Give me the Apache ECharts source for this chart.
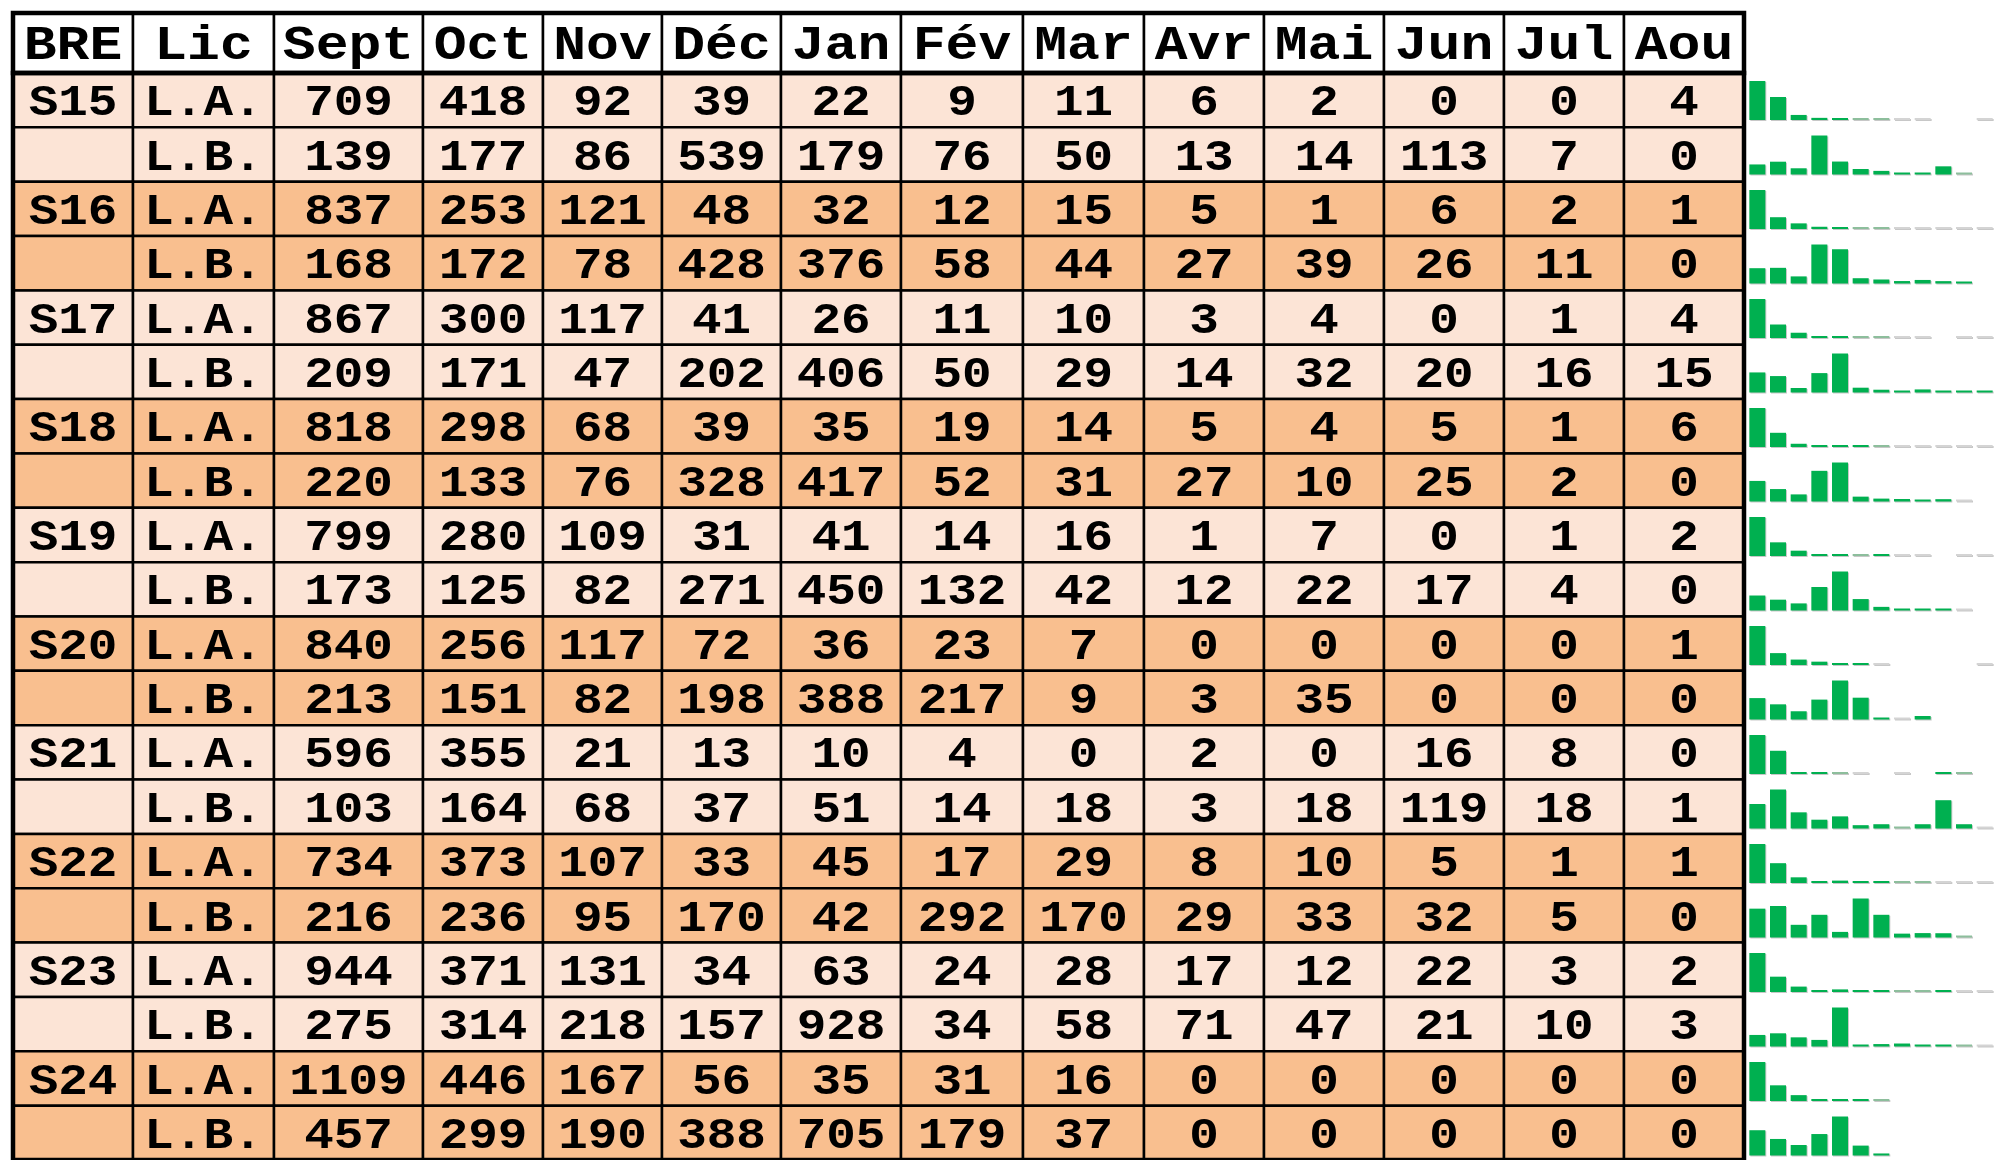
<!DOCTYPE html>
<html>
<head>
<meta charset="utf-8">
<title>BRE - L.A. / L.B.</title>
<script src="https://cdn.jsdelivr.net/npm/echarts@6/dist/echarts.min.js"></script>
<style>
html,body{margin:0;padding:0;background:#fff;}
#main{width:1995px;height:1160px;}
</style>
</head>
<body>
<div id="main"></div>
<script>
// en-têtes du tableau
var headers = ['BRE','Lic','Sept','Oct','Nov','Déc','Jan','Fév','Mar','Avr','Mai','Jun','Jul','Aou'];
var months = headers.slice(2);
var sites = ['S15','S16','S17','S18','S19','S20','S21','S22','S23','S24'];
var lics = ['L.A.','L.B.'];

// valeurs par ligne (Sept -> Aou)
var S15_LA = [709, 418, 92, 39, 22, 9, 11, 6, 2, 0, 0, 4];
var S15_LB = [139, 177, 86, 539, 179, 76, 50, 13, 14, 113, 7, 0];
var S16_LA = [837, 253, 121, 48, 32, 12, 15, 5, 1, 6, 2, 1];
var S16_LB = [168, 172, 78, 428, 376, 58, 44, 27, 39, 26, 11, 0];
var S17_LA = [867, 300, 117, 41, 26, 11, 10, 3, 4, 0, 1, 4];
var S17_LB = [209, 171, 47, 202, 406, 50, 29, 14, 32, 20, 16, 15];
var S18_LA = [818, 298, 68, 39, 35, 19, 14, 5, 4, 5, 1, 6];
var S18_LB = [220, 133, 76, 328, 417, 52, 31, 27, 10, 25, 2, 0];
var S19_LA = [799, 280, 109, 31, 41, 14, 16, 1, 7, 0, 1, 2];
var S19_LB = [173, 125, 82, 271, 450, 132, 42, 12, 22, 17, 4, 0];
var S20_LA = [840, 256, 117, 72, 36, 23, 7, 0, 0, 0, 0, 1];
var S20_LB = [213, 151, 82, 198, 388, 217, 9, 3, 35, 0, 0, 0];
var S21_LA = [596, 355, 21, 13, 10, 4, 0, 2, 0, 16, 8, 0];
var S21_LB = [103, 164, 68, 37, 51, 14, 18, 3, 18, 119, 18, 1];
var S22_LA = [734, 373, 107, 33, 45, 17, 29, 8, 10, 5, 1, 1];
var S22_LB = [216, 236, 95, 170, 42, 292, 170, 29, 33, 32, 5, 0];
var S23_LA = [944, 371, 131, 34, 63, 24, 28, 17, 12, 22, 3, 2];
var S23_LB = [275, 314, 218, 157, 928, 34, 58, 71, 47, 21, 10, 3];
var S24_LA = [1109, 446, 167, 56, 35, 31, 16, 0, 0, 0, 0, 0];
var S24_LB = [457, 299, 190, 388, 705, 179, 37, 0, 0, 0, 0, 0];

var rows = [S15_LA, S15_LB, S16_LA, S16_LB, S17_LA, S17_LB, S18_LA, S18_LB, S19_LA, S19_LB,
            S20_LA, S20_LB, S21_LA, S21_LB, S22_LA, S22_LB, S23_LA, S23_LB, S24_LA, S24_LB];

// mise en page
var colWidths = [120, 141, 149, 120, 119, 119, 120, 122, 121, 120, 120, 120, 120, 120];
var LIGHT = '#FCE4D6', DARK = '#F9BF8F', GREEN = '#00B050';
var TABLE_LEFT = 13, HEAD_TOP = 13, HEAD_H = 60, ROW_H = 54.5;
var BODY_TOP = HEAD_TOP + HEAD_H;
var FONT_HEAD = 'bold 48px "Liberation Mono", "Courier New", monospace';
var FONT_BODY = 'bold 44px "Liberation Mono", "Courier New", monospace';
var STRETCH_HEAD = 1.14, STRETCH_BODY = 1.12;

var colEdges = [0];
for (var i = 0; i < colWidths.length; i++) {
    colEdges.push(colEdges[i] + colWidths[i]);
}
var tableW = colEdges[colEdges.length - 1];

var rowNames = [];
for (var r = 0; r < rows.length; r++) {
    rowNames.push(sites[Math.floor(r / 2)] + ' ' + lics[r % 2]);
}

// cellules
var headCells = [], headTexts = [];
for (var c = 0; c < headers.length; c++) {
    headCells.push([colEdges[c], colEdges[c + 1], 0]);
    headTexts.push(headers[c]);
}
var bodyCells = [], bodyTexts = [];
for (var r = 0; r < rows.length; r++) {
    for (var c = 0; c < headers.length; c++) {
        var txt;
        if (c == 0) {
            txt = (r % 2 == 0) ? sites[r / 2] : '';
        } else if (c == 1) {
            txt = lics[r % 2];
        } else {
            txt = String(rows[r][c - 2]);
        }
        bodyCells.push([colEdges[c], colEdges[c + 1], r]);
        bodyTexts.push(txt);
    }
}

function cellRenderer(texts, font, stretch, isHead) {
    return function (params, api) {
        var x0 = api.value(0), x1 = api.value(1), r = api.value(2);
        var p0 = api.coord([x0, r]);
        var p1 = api.coord([x1, r]);
        var h = api.size([0, 1])[1];
        var fill = '#FFFFFF';
        if (!isHead) {
            fill = (Math.floor(r / 2) % 2 == 0) ? LIGHT : DARK;
        }
        return {
            type: 'group',
            children: [{
                type: 'rect',
                shape: { x: p0[0], y: p0[1] - h / 2, width: p1[0] - p0[0], height: h },
                style: { fill: fill, stroke: '#000', lineWidth: 2.5 }
            }, {
                type: 'text',
                x: (p0[0] + p1[0]) / 2,
                y: p0[1] + 4,
                scaleX: stretch,
                style: {
                    text: texts[params.dataIndex],
                    x: 0,
                    y: 0,
                    align: 'center',
                    verticalAlign: 'middle',
                    font: font,
                    fill: '#000'
                }
            }]
        };
    };
}

function frameRenderer(lastRow) {
    return function (params, api) {
        var h = api.size([0, 1])[1];
        var a = api.coord([0, 0]);
        var b = api.coord([tableW, lastRow]);
        return {
            type: 'rect',
            shape: { x: a[0], y: a[1] - h / 2, width: b[0] - a[0], height: b[1] - a[1] + h },
            style: { fill: null, stroke: '#000', lineWidth: 4.5 },
            z2: 10
        };
    };
}

var grids = [
    { left: TABLE_LEFT, top: HEAD_TOP, width: tableW, height: HEAD_H },
    { left: TABLE_LEFT, top: BODY_TOP, width: tableW, height: ROW_H * rows.length }
];
var xAxes = [
    { gridIndex: 0, type: 'value', min: 0, max: tableW, show: false },
    { gridIndex: 1, type: 'value', min: 0, max: tableW, show: false }
];
var yAxes = [
    { gridIndex: 0, type: 'category', data: ['head'], show: false },
    { gridIndex: 1, type: 'category', data: rowNames, inverse: true, show: false }
];
var series = [
    { type: 'custom', xAxisIndex: 0, yAxisIndex: 0, renderItem: cellRenderer(headTexts, FONT_HEAD, STRETCH_HEAD, true),
      data: headCells, encode: { x: [0, 1], y: 2 }, clip: false },
    { type: 'custom', xAxisIndex: 1, yAxisIndex: 1, renderItem: cellRenderer(bodyTexts, FONT_BODY, STRETCH_BODY, false),
      data: bodyCells, encode: { x: [0, 1], y: 2 }, clip: false },
    { type: 'custom', xAxisIndex: 0, yAxisIndex: 0, renderItem: frameRenderer(0),
      data: [[0, tableW, 0]], encode: { x: [0, 1], y: 2 }, clip: false, z: 5 },
    { type: 'custom', xAxisIndex: 1, yAxisIndex: 1, renderItem: frameRenderer(rows.length - 1),
      data: [[0, tableW, 0]], encode: { x: [0, 1], y: 2 }, clip: false, z: 5 }
];

// mini-graphiques (sparklines) à droite
var SPARK_LEFT = TABLE_LEFT + tableW + 3;
for (var r = 0; r < rows.length; r++) {
    var gi = grids.length;
    grids.push({ left: SPARK_LEFT, top: BODY_TOP + r * ROW_H + 8, width: 260, height: 39 });
    xAxes.push({ gridIndex: gi, type: 'category', data: months, show: false });
    yAxes.push({ gridIndex: gi, type: 'value', min: 0, max: 'dataMax', show: false });
    (function (rowMax) {
        series.push({
            type: 'bar',
            xAxisIndex: gi,
            yAxisIndex: gi,
            data: rows[r],
            barWidth: 16,
            barMinHeight: 2,
            itemStyle: {
                color: function (p) {
                    if (p.value == 0) return 'rgba(0,0,0,0)';
                    var k = p.value / rowMax;
                    if (k < 0.01) return '#D4D4D4';
                    if (k < 0.02) return '#8DBE9C';
                    return GREEN;
                },
                shadowColor: 'rgba(0,0,0,0.22)',
                shadowOffsetX: 1,
                shadowOffsetY: 1
            }
        });
    })(Math.max.apply(null, rows[r]));
}

var myChart = echarts.init(document.getElementById('main'));
myChart.setOption({
    animation: false,
    backgroundColor: '#FFFFFF',
    grid: grids,
    xAxis: xAxes,
    yAxis: yAxes,
    series: series
});
</script>
</body>
</html>
